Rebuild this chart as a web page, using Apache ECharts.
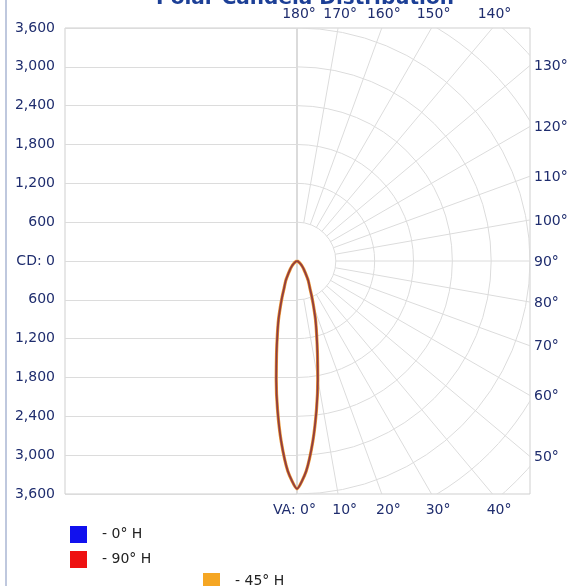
<!DOCTYPE html>
<html>
<head>
<meta charset="utf-8">
<script src="https://cdn.jsdelivr.net/npm/echarts@6/dist/echarts.min.js"></script>
<style>
  html, body { margin: 0; padding: 0; background: #fff; }
  #chart { width: 572px; height: 586px; }
</style>
</head>
<body>
<div id="chart"></div>
<script>
// vertical angles (deg) and candela per horizontal plane
var vaAngles = [0, 2.5, 5, 7.5, 10, 12.5, 15, 17.5, 20, 22.5, 25, 30, 35, 40, 45, 50, 55, 60, 65, 70, 75, 80, 85, 90];
var cd0H  = [3520, 3250, 2800, 2310, 1850, 1460, 1170, 950, 750, 600, 480, 345, 225, 160, 110, 75, 50, 30, 20, 12, 6, 3, 1, 0];
var cd90H = [3520, 3250, 2800, 2310, 1850, 1460, 1170, 950, 750, 600, 480, 345, 225, 160, 110, 75, 50, 30, 20, 12, 6, 3, 1, 0];
var cd45H = [3520, 3250, 2800, 2310, 1850, 1460, 1170, 950, 750, 600, 480, 345, 225, 160, 110, 75, 50, 30, 20, 12, 6, 3, 1, 0];

// polar grid
var angleTicks = [0, 10, 20, 30, 40, 50, 60, 70, 80, 90, 100, 110, 120, 130, 140, 150, 160, 170, 180];
var angleLabels = ['VA: 0°', '10°', '20°', '30°', '40°', '50°', '60°', '70°', '80°', '90°', '100°', '110°', '120°', '130°', '140°', '150°', '160°', '170°', '180°'];
var ringTicks = [600, 1200, 1800, 2400, 3000, 3600, 4200, 4800, 5400];
var cdMax = 3600;

var labelColor = '#1f2d6e';
var gridColor = '#dcdcdc';
var labelFont = '14px "DejaVu Sans"';

// closed loop: right side from 90 down to 0, left side mirrored
function loop(cd) {
	var right = vaAngles.map(function(a, i) { return [cd[i], a]; }).reverse();
	var left = vaAngles.map(function(a, i) { return [cd[i], 360 - a]; });
	return right.concat(left);
}

var chart = echarts.init(document.getElementById('chart'));

var option = {
	animation: false,
	title: {
		text: 'Polar Candela Distribution',
		left: 300,
		textAlign: 'center',
		top: -16,
		textStyle: { fontFamily: 'DejaVu Sans', fontSize: 20, fontWeight: 'bold', color: '#1c3f96' }
	},
	legend: [{
		data: ['0° H', '90° H'],
		orient: 'vertical',
		left: 65,
		top: 521,
		itemWidth: 17,
		itemHeight: 17,
		itemGap: 8,
		icon: 'rect',
		formatter: '- {name}',
		textStyle: { fontFamily: 'DejaVu Sans', fontSize: 14, color: '#222', padding: [0, 0, 0, 10] }
	}, {
		data: ['45° H'],
		left: 198,
		top: 568,
		itemWidth: 17,
		itemHeight: 17,
		icon: 'rect',
		formatter: '- {name}',
		textStyle: { fontFamily: 'DejaVu Sans', fontSize: 14, color: '#222', padding: [0, 0, 0, 10] }
	}],
	grid: [
		{ left: 65, top: 28, width: 232, height: 466, show: true, borderColor: '#cfcfcf', borderWidth: 1 },
		{ left: 297, top: 28, width: 233, height: 466, show: true, borderColor: '#cfcfcf', borderWidth: 1 }
	],
	xAxis: [
		{ gridIndex: 0, type: 'value', min: -cdMax, max: 0, show: false },
		{ gridIndex: 1, type: 'value', min: 0, max: cdMax, show: false }
	],
	yAxis: [{
		gridIndex: 0,
		type: 'value',
		min: -cdMax,
		max: cdMax,
		interval: 600,
		axisLine: { show: false },
		axisTick: { show: false },
		splitLine: { lineStyle: { color: gridColor } },
		axisLabel: {
			margin: 10,
			color: labelColor,
			fontFamily: 'DejaVu Sans',
			fontSize: 14,
			formatter: function(v) {
				return v === 0 ? 'CD: 0' : Math.abs(v).toLocaleString('en-US');
			}
		}
	}, {
		gridIndex: 1, type: 'value', min: -cdMax, max: cdMax, show: false
	}],
	polar: { center: [297, 261], radius: [0, 233] },
	angleAxis: { type: 'value', min: 0, max: 360, startAngle: 270, clockwise: false, show: false },
	radiusAxis: { type: 'value', min: 0, max: cdMax, show: false },
	series: [{
		// arcs
		type: 'custom',
		xAxisIndex: 1,
		yAxisIndex: 1,
		clip: true,
		silent: true,
		z: 1,
		data: ringTicks.map(function(r) { return [r]; }),
		renderItem: function(params, api) {
			var c = api.coord([0, 0]);
			var r = api.size([api.value(0), 0])[0];
			return {
				type: 'arc',
				shape: { cx: c[0], cy: c[1], r: r, startAngle: -Math.PI / 2, endAngle: Math.PI / 2, clockwise: true },
				style: { stroke: gridColor, fill: null, lineWidth: 1 }
			};
		}
	}, {
		// rays
		type: 'custom',
		xAxisIndex: 1,
		yAxisIndex: 1,
		clip: true,
		silent: true,
		z: 1,
		data: angleTicks.map(function(a) { return [a]; }),
		renderItem: function(params, api) {
			var a = api.value(0) * Math.PI / 180;
			var p1 = api.coord([600 * Math.sin(a), -600 * Math.cos(a)]);
			var p2 = api.coord([6000 * Math.sin(a), -6000 * Math.cos(a)]);
			return {
				type: 'line',
				shape: { x1: p1[0], y1: p1[1], x2: p2[0], y2: p2[1] },
				style: { stroke: gridColor, lineWidth: 1 }
			};
		}
	}, {
		// angle labels where rays meet the frame
		type: 'custom',
		xAxisIndex: 1,
		yAxisIndex: 1,
		clip: false,
		silent: true,
		z: 3,
		data: angleTicks.map(function(a) { return [a]; }),
		renderItem: function(params, api) {
			var deg = api.value(0);
			var a = deg * Math.PI / 180;
			var s = Math.sin(a), c = Math.cos(a);
			var t = Infinity;
			if (s > 1e-9) t = Math.min(t, cdMax / s);
			if (Math.abs(c) > 1e-9) t = Math.min(t, cdMax / Math.abs(c));
			var p = api.coord([t * s, -t * c]);
			var txt = angleLabels[params.dataIndex];
			var style = { text: txt, fill: labelColor, font: labelFont };
			var x = p[0], y = p[1];
			if (Math.abs(-t * c + cdMax) < 1) {
				// bottom edge
				style.align = 'right'; style.verticalAlign = 'middle';
				x += 19; y += 16;
			} else if (Math.abs(-t * c - cdMax) < 1) {
				// top edge
				style.align = 'center'; style.verticalAlign = 'middle';
				x += 2; y -= 14;
			} else {
				style.align = 'left'; style.verticalAlign = 'middle';
				x += 4; y += 1;
			}
			style.x = x; style.y = y;
			return { type: 'text', style: style };
		}
	}, {
		name: '45° H',
		type: 'line',
		coordinateSystem: 'polar',
		data: loop(cd45H),
		showSymbol: false,
		symbol: 'rect',
		smooth: 0.2,
		color: '#f5a623',
		lineStyle: { width: 3.2, color: '#e89a3a' },
		z: 4
	}, {
		name: '90° H',
		type: 'line',
		coordinateSystem: 'polar',
		data: loop(cd90H),
		showSymbol: false,
		symbol: 'rect',
		smooth: 0.2,
		color: '#ee1111',
		lineStyle: { width: 2, color: '#a8402a', opacity: 0.9 },
		z: 5
	}, {
		name: '0° H',
		type: 'line',
		coordinateSystem: 'polar',
		data: loop(cd0H),
		showSymbol: false,
		symbol: 'rect',
		smooth: 0.2,
		color: '#1111ee',
		lineStyle: { width: 1, color: '#2020a0', opacity: 0.3 },
		z: 6
	}],
	graphic: [{
		type: 'line',
		shape: { x1: 6, y1: 0, x2: 6, y2: 586 },
		style: { stroke: '#aab6d3', lineWidth: 1.5 },
		silent: true
	}]
};

chart.setOption(option);
</script>
</body>
</html>
